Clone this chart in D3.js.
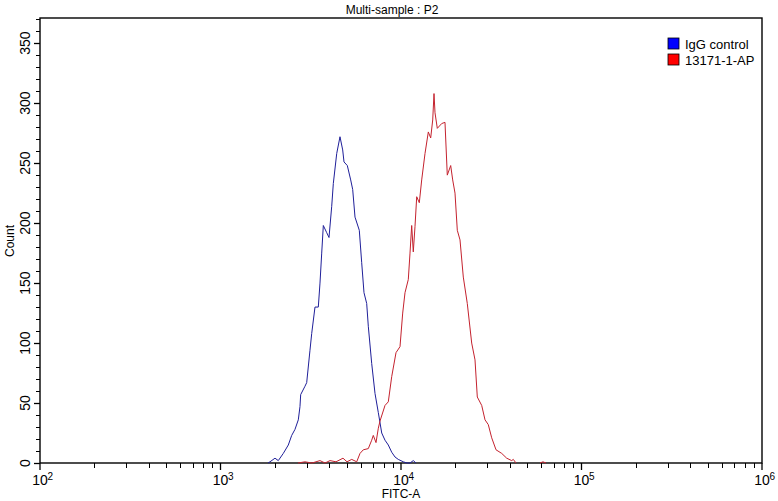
<!DOCTYPE html>
<html>
<head>
<meta charset="utf-8">
<script src="https://cdn.jsdelivr.net/npm/d3@7"></script>
<style>
  html, body { margin: 0; padding: 0; background: #fff; }
  svg { display: block; }
  text { font-family: "Liberation Sans", Arial, sans-serif; fill: #000; }
  .tick-lab { font-family: "Liberation Sans Narrow", "Liberation Sans", Arial, sans-serif; }
</style>
</head>
<body>
<script>
// ---------- data ----------
const title = "Multi-sample : P2";
const xLabel = "FITC-A";
const yLabel = "Count";
const seriesNames = ["IgG control", "13171-1-AP"];

// IgG control histogram (FITC-A value, count)
const iggFitc = [1833, 1880, 2004, 2090, 2228, 2375, 2480, 2586, 2698, 2756, 2781, 2938, 3003, 3131, 3201, 3338, 3482, 3558, 3637, 3712, 3877, 3992, 4132, 4217, 4404, 4592, 4753, 4833, 5041, 5264, 5400, 5561, 5875, 6057, 6237, 6456, 6590, 6881, 7178, 7487, 7820, 8154, 8505, 8882, 9265, 9661, 10297, 10795, 11217, 11697, 12109];
const iggCount = [0, 1, 4, 2, 8, 15, 23, 28, 36, 47, 57, 64, 67, 94, 108, 130, 130, 150, 175, 198, 192, 188, 214, 233, 258, 272, 261, 251, 248, 236, 228, 205, 194, 167, 142, 133, 114, 83, 58, 42, 25, 19, 15, 9, 5, 3, 1, 0, 0, 2, 0];

// 13171-1-AP histogram (FITC-A value, count); null = no events drawn
const apFitc = [2688, 2938, 3213, 3558, 3793, 4043, 4365, 4771, 5022, 5332, 5683, 5929, 6182, 6590, 6881, 7022, 7270, 7487, 7650, 8154, 8505, 8882, 9383, 9874, 10219, 10525, 10976, 11217, 11463, 11697, 11955, 12218, 12630, 13022, 13583, 14169, 14607, 14985, 15236, 15433, 15891, 16807, 17528, 18050, 18852, 19337, 19915, 20508, 21228, 22141, 23296, 24640, 25704, 26468, 27998, 29200, 30452, 31806, 33607, 36140, 38520, 41050, 41900, 43370, 50000, 58900, 61180, 63580];
const apCount = [0, 1, 0, 2, 0, 2, 1, 4, 1, 3, 1, 8, 11, 12, 19, 23, 17, 29, 35, 48, 51, 72, 92, 97, 125, 142, 153, 175, 198, 176, 197, 222, 217, 236, 258, 276, 271, 286, 308, 292, 279, 283, 284, 240, 248, 236, 225, 194, 186, 155, 133, 100, 86, 55, 48, 36, 32, 21, 11, 8, 4, 2, 3, 0, null, 0, 1, 0];

const xDecades = [2, 3, 4, 5, 6];
const yMajorTicks = [0, 50, 100, 150, 200, 250, 300, 350];
const yMinorTicks = d3.range(0, 371, 10);
const xDomain = [100, 1000000];
const yDomain = [0, 371];

// ---------- layout ----------
const W = 778, H = 501;
const L = 40, R = 762, T = 18, B = 463;
const blue = "#1f1f99", red = "#c4222e";

const svg = d3.select("body").append("svg").attr("width", W).attr("height", H);

const x = d3.scaleLog().domain(xDomain).range([L, R]);
const y = d3.scaleLinear().domain(yDomain).range([B, T]);

// frame
svg.append("rect").attr("x", L).attr("y", T).attr("width", R - L).attr("height", B - T)
  .attr("fill", "none").attr("stroke", "#000").attr("stroke-width", 1.4);

// x ticks (log decades + minors)
const xMinor = [];
for (let e = 2; e < 6; e++) for (let m = 2; m <= 9; m++) xMinor.push(m * Math.pow(10, e));
svg.append("g").selectAll("line").data(xMinor).join("line")
  .attr("x1", d => Math.round(x(d)) + 0.5).attr("x2", d => Math.round(x(d)) + 0.5)
  .attr("y1", B).attr("y2", B + 5).attr("stroke", "#000").attr("stroke-width", 1);
svg.append("g").selectAll("line").data(xDecades).join("line")
  .attr("x1", d => x(Math.pow(10, d))).attr("x2", d => x(Math.pow(10, d)))
  .attr("y1", B).attr("y2", B + 7).attr("stroke", "#000").attr("stroke-width", 1.3);
const xl = svg.append("g").selectAll("g").data(xDecades).join("g")
  .attr("transform", d => `translate(${x(Math.pow(10, d))},485)`);
xl.append("text").attr("class", "tick-lab").attr("text-anchor", "middle")
  .attr("font-size", 14).text("10");
xl.append("text").attr("class", "tick-lab").attr("x", 7.5).attr("y", -5)
  .attr("font-size", 10).text(d => d);

// y ticks
svg.append("g").selectAll("line").data(yMinorTicks).join("line")
  .attr("x1", L - 4).attr("x2", L)
  .attr("y1", d => Math.round(y(d)) + 0.5).attr("y2", d => Math.round(y(d)) + 0.5)
  .attr("stroke", "#000").attr("stroke-width", 1);
svg.append("g").selectAll("line").data(yMajorTicks).join("line")
  .attr("x1", L - 6).attr("x2", L)
  .attr("y1", d => Math.round(y(d)) + 0.5).attr("y2", d => Math.round(y(d)) + 0.5)
  .attr("stroke", "#000").attr("stroke-width", 1.3);
svg.append("g").selectAll("text").data(yMajorTicks).join("text")
  .attr("class", "tick-lab").attr("font-size", 14).attr("text-anchor", "middle")
  .attr("transform", d => `translate(30,${y(d)}) rotate(-90)`)
  .text(d => d);

// axis titles
svg.append("text").attr("x", 392).attr("y", 14).attr("text-anchor", "middle")
  .attr("font-size", 12).text(title);
svg.append("text").attr("x", x(10000)).attr("y", 498).attr("text-anchor", "middle")
  .attr("font-size", 12).text(xLabel);
svg.append("text").attr("text-anchor", "middle").attr("font-size", 12)
  .attr("transform", `translate(14,241) rotate(-90)`).text(yLabel);

// curves
const line = d3.line().defined(d => d[1] != null).x(d => x(d[0])).y(d => y(d[1]));
const iggData = iggFitc.map((v, i) => [v, iggCount[i]]);
const apData = apFitc.map((v, i) => [v, apCount[i]]);
svg.append("path").datum(iggData).attr("d", line).attr("fill", "none")
  .attr("stroke", blue).attr("stroke-width", 1);
svg.append("path").datum(apData).attr("d", line).attr("fill", "none")
  .attr("stroke", red).attr("stroke-width", 1);

// legend
const legColors = ["#0000ff", "#ff0000"];
const leg = svg.append("g").selectAll("g").data(seriesNames).join("g")
  .attr("transform", (d, i) => `translate(668,${38 + i * 16})`);
leg.append("rect").attr("width", 11).attr("height", 11)
  .attr("fill", (d, i) => legColors[i]).attr("stroke", "#000").attr("stroke-width", 0.8);
leg.append("text").attr("x", 17).attr("y", 11).attr("font-size", 13).text(d => d);
</script>
</body>
</html>
